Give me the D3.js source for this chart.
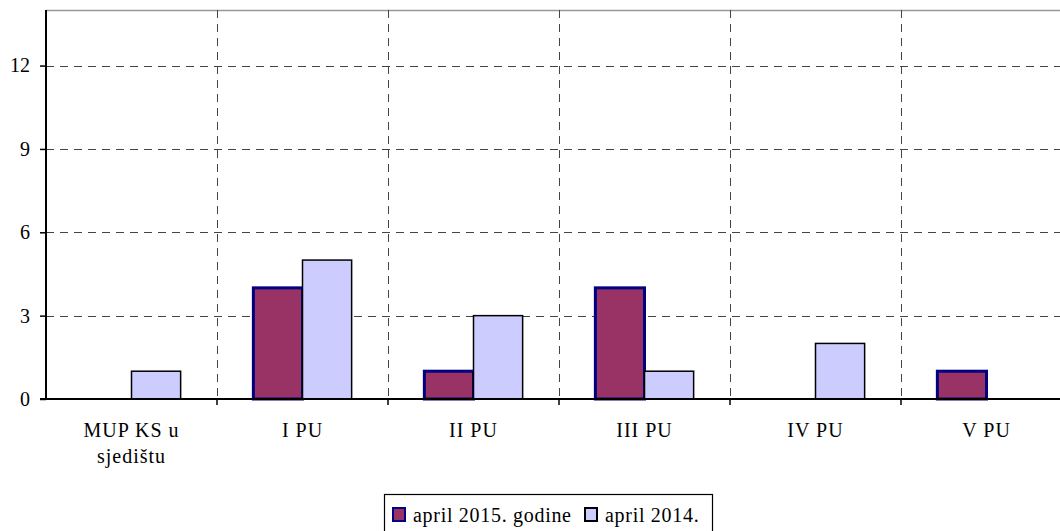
<!DOCTYPE html>
<html>
<head>
<meta charset="utf-8">
<script src="https://cdn.jsdelivr.net/npm/d3@7"></script>
<style>
  body { margin: 0; background: #fff; }
</style>
</head>
<body>
<div id="chart"></div>
<script>
const categories = ["MUP KS u sjedištu", "I PU", "II PU", "III PU", "IV PU", "V PU"];
const categoryLines = [["MUP KS u", "sjedištu"], ["I PU"], ["II PU"], ["III PU"], ["IV PU"], ["V PU"]];
const seriesNames = ["april 2015. godine", "april 2014."];
const values2015 = [0, 4, 1, 4, 0, 1];
const values2014 = [1, 5, 3, 1, 2, 0];
const yTicks = [0, 3, 6, 9, 12];

const FONT = '"Liberation Serif"';
const width = 1060, height = 531;
const margin = { left: 46, top: 10, bottom: 132 };
const plotRight = 1072; // last category runs past the window edge

const svg = d3.select("#chart").append("svg")
    .attr("width", width)
    .attr("height", height);

const x = d3.scaleBand()
    .domain(categories)
    .range([margin.left, plotRight]);

const inner = d3.scaleBand()
    .domain(seriesNames)
    .range([0, x.bandwidth()])
    .paddingOuter(0.74)
    .paddingInner(0);

const y = d3.scaleLinear()
    .domain([0, 14])
    .range([height - margin.bottom, margin.top]);

// top border
svg.append("line")
    .attr("x1", margin.left).attr("x2", width)
    .attr("y1", margin.top + 0.5).attr("y2", margin.top + 0.5)
    .attr("stroke", "#999").attr("stroke-width", 1.5);

// horizontal grid
svg.selectAll(".hgrid")
    .data(yTicks.filter(d => d > 0))
    .enter().append("line")
    .attr("x1", margin.left).attr("x2", width)
    .attr("y1", d => Math.round(y(d)) + 0.5).attr("y2", d => Math.round(y(d)) + 0.5)
    .attr("stroke", "#444").attr("stroke-dasharray", "8,6");

// vertical grid at category boundaries
svg.selectAll(".vgrid")
    .data(categories.slice(1))
    .enter().append("line")
    .attr("x1", d => Math.round(x(d)) + 0.5).attr("x2", d => Math.round(x(d)) + 0.5)
    .attr("y1", margin.top).attr("y2", y(0))
    .attr("stroke", "#444").attr("stroke-dasharray", "8,6");

// bars
const series = [
    { name: seriesNames[0], values: values2015, fill: "#993366", stroke: "#000080", sw: 3 },
    { name: seriesNames[1], values: values2014, fill: "#CCCCFF", stroke: "#000", sw: 1.5 }
];

series.forEach(s => {
    svg.append("g").selectAll("rect")
        .data(categories.map((c, i) => ({ c, v: s.values[i] })).filter(d => d.v > 0))
        .enter().append("rect")
        .attr("x", d => x(d.c) + inner(s.name))
        .attr("width", inner.bandwidth())
        .attr("y", d => y(d.v))
        .attr("height", d => y(0) - y(d.v))
        .attr("fill", s.fill)
        .attr("stroke", s.stroke)
        .attr("stroke-width", s.sw);
});

// y axis
const yAxis = svg.append("g")
    .attr("transform", `translate(${margin.left},0)`)
    .call(d3.axisLeft(y).tickValues(yTicks).tickSize(6).tickPadding(10));
yAxis.selectAll("text")
    .style("font-family", FONT)
    .style("font-size", "20px");
yAxis.select(".domain").attr("d", `M0,${margin.top}V${y(0)}`).attr("stroke-width", 2);
yAxis.selectAll(".tick line").attr("x2", -6).attr("stroke-width", 1.5);

// x axis line
svg.append("line")
    .attr("x1", margin.left - 6).attr("x2", width)
    .attr("y1", y(0)).attr("y2", y(0))
    .attr("stroke", "#000").attr("stroke-width", 2);

// x ticks at boundaries
svg.selectAll(".xtick")
    .data(categories.slice(1))
    .enter().append("line")
    .attr("x1", d => x(d)).attr("x2", d => x(d))
    .attr("y1", y(0)).attr("y2", y(0) + 6)
    .attr("stroke", "#000").attr("stroke-width", 1.5);

// x labels
categoryLines.forEach((lines, i) => {
    const cx = x(categories[i]) + x.bandwidth() / 2;
    const t = svg.append("text")
        .attr("x", cx)
        .attr("y", 437)
        .attr("text-anchor", "middle")
        .style("font-family", FONT)
        .style("font-size", "20px")
        .style("letter-spacing", "1px");
    lines.forEach((ln, j) => {
        t.append("tspan")
            .attr("x", cx)
            .attr("dy", j === 0 ? 0 : 26)
            .text(ln);
    });
});

// legend
const legend = svg.append("g");
legend.append("rect")
    .attr("x", 384.5).attr("y", 494.5)
    .attr("width", 328).attr("height", 40)
    .attr("fill", "#fff").attr("stroke", "#000").attr("stroke-width", 1.2);

const legendItems = [
    { name: seriesNames[0], fill: "#993366", stroke: "#000080", x: 393 },
    { name: seriesNames[1], fill: "#CCCCFF", stroke: "#000", x: 585 }
];
legendItems.forEach(it => {
    legend.append("rect")
        .attr("x", it.x).attr("y", 508)
        .attr("width", 12).attr("height", 13)
        .attr("fill", it.fill).attr("stroke", it.stroke).attr("stroke-width", 2);
    legend.append("text")
        .attr("x", it.x + 20).attr("y", 522)
        .style("font-family", FONT)
        .style("font-size", "20px")
        .style("letter-spacing", "0.7px")
        .text(it.name);
});
</script>
</body>
</html>
